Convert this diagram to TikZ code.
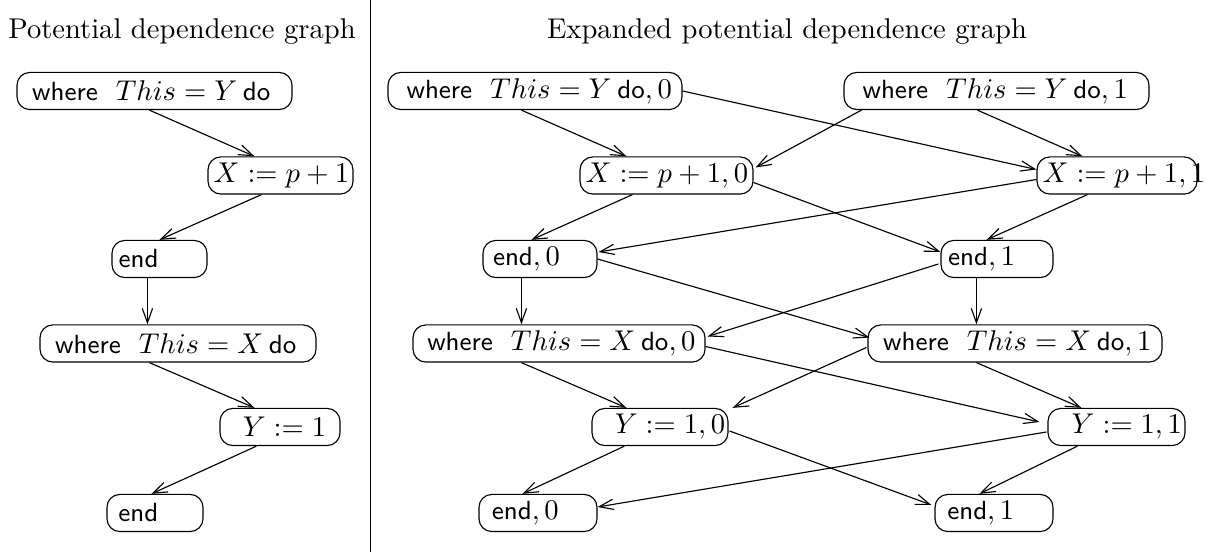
\documentclass[tikz,border=0pt]{standalone}
\usetikzlibrary{arrows.meta,calc}
\tikzset{
  stmt/.style={draw,rounded corners=4.5pt,minimum height=13pt,inner xsep=2pt,inner ysep=0pt,
    font=\sffamily,
    /utils/exec={\pgfmathsetlengthmacro\stmtwd{#1*0.35pt-4pt}},
    execute at begin node={\hbox to \stmtwd\bgroup},
    execute at end node={\hss\egroup}},
  dep/.style={line width=0.4pt,-{Straight Barb[length=5pt,width=3.6pt,line width=0.4pt]}},
}
\newcommand{\kw}[1]{{\fontsize{9.2}{11}\selectfont #1}}
\newcommand{\wh}[2]{\hspace*{#1}\kw{where}\hspace{6.3pt}$This=#2$\hspace{2pt}\kw{do}}
\begin{document}
\begin{tikzpicture}[x=0.35pt,y=0.35pt,line width=0.4pt]
\useasboundingbox (0,0) rectangle (1205,552);
\node (ltitle) at (182,520) {Potential dependence graph};
\node (rtitle) at (787,520) {Expanded potential dependence graph};
\coordinate (divtop) at (370,552);
\coordinate (divbot) at (370,0);
\draw[line width=0.35pt] (divtop) -- (divbot);
% left graph
\node[stmt=275] (L1) at (154.5,461) {\wh{3.3pt}{Y}};
\node[stmt=145] (L2) at (280.5,376.5) {$X := p+1$};
\node[stmt=95]  (L3) at (159.5,293) {\hspace*{0.3pt}\kw{end}};
\node[stmt=276] (L4) at (178,208.5) {\wh{3.3pt}{X}};
\node[stmt=120] (L5) at (280,125) {\hspace*{6pt}$Y := 1$};
\node[stmt=96]  (L6) at (155,39) {\hspace*{2pt}\kw{end}};
\draw[dep] ($(L1.south west)+(133,0)$) -- ($(L2.north west)+(47,0)$);
\draw[dep] ($(L2.south west)+(54,0)$) -- ($(L3.north west)+(48,0)$);
\draw[dep] ($(L3.south west)+(36,0)$) -- ($(L4.north west)+(108,0)$);
\draw[dep] ($(L4.south west)+(110,0)$) -- ($(L5.north west)+(35,0)$);
\draw[dep] ($(L5.south west)+(37,0)$) -- ($(L6.north west)+(45,0)$);
% expanded graph
\node[stmt=294] (R1a) at (535,461) {\wh{4.5pt}{Y}$,0$};
\node[stmt=305] (R1b) at (996.5,461) {\wh{4.5pt}{Y}$,1$};
\node[stmt=173] (R2a) at (666.5,376.5) {$X := p+1,0$};
\node[stmt=160] (R2b) at (1117,376.5) {$X := p+1,1$};
\node[stmt=114] (R3a) at (540,293) {\hspace*{1.5pt}\kw{end}$,0$};
\node[stmt=112] (R3b) at (997,293) {\hspace*{0.5pt}\kw{end}$,1$};
\node[stmt=292] (R4a) at (559,208.5) {\wh{3pt}{X}$,0$};
\node[stmt=294] (R4b) at (1015,208.5) {\wh{3.3pt}{X}$,1$};
\node[stmt=136] (R5a) at (660,125) {\hspace*{6pt}$Y := 1,0$};
\node[stmt=137] (R5b) at (1116.5,125) {\hspace*{6.3pt}$Y := 1,1$};
\node[stmt=118] (R6a) at (538,39) {\hspace*{2.5pt}\kw{end}$,0$};
\node[stmt=118] (R6b) at (994,39) {\hspace*{2.3pt}\kw{end}$,1$};
\draw[dep] ($(R1a.south west)+(134,0)$) -- ($(R2a.north west)+(47,0)$);
\draw[dep] (R1a.east) -- ($(R2b.west)+(0,6)$);
\draw[dep] ($(R1b.south west)+(18,0)$) -- ($(R2a.east)+(2,8)$);
\draw[dep] ($(R1b.south west)+(134,0)$) -- ($(R2b.north west)+(46,0)$);
\draw[dep] ($(R2a.south west)+(53,0)$) -- ($(R3a.north west)+(49,0)$);
\draw[dep] ($(R2a.east)+(0,-7)$) -- ($(R3b.west)+(0,7)$);
\draw[dep] ($(R2b.west)+(0,-4)$) -- ($(R3a.east)+(1,7)$);
\draw[dep] ($(R2b.south west)+(51,0)$) -- ($(R3b.north west)+(46,0)$);
\draw[dep] ($(R3a.south west)+(39,0)$) -- ($(R4a.north west)+(109,0)$);
\draw[dep] (R3a.east) -- ($(R4b.west)+(2,6)$);
\draw[dep] ($(R3b.west)+(-2,-5)$) -- ($(R4a.east)+(2,7)$);
\draw[dep] ($(R3b.south west)+(36,0)$) -- ($(R4b.north west)+(109,0)$);
\draw[dep] ($(R4a.south west)+(109,0)$) -- ($(R5a.north west)+(35,0)$);
\draw[dep] ($(R4a.east)+(0,-3)$) -- ($(R5b.west)+(-8,5)$);
\draw[dep] ($(R4b.west)+(-1,-4)$) -- ($(R5a.north east)+(4,0)$);
\draw[dep] ($(R4b.south west)+(109,0)$) -- ($(R5b.north west)+(34,0)$);
\draw[dep] ($(R5a.south west)+(33,0)$) -- ($(R6a.north west)+(44,0)$);
\draw[dep] ($(R5a.east)+(1,-4)$) -- ($(R6b.west)+(-3,8)$);
\draw[dep] ($(R5b.west)+(-1,-5)$) -- ($(R6a.east)+(0,6)$);
\draw[dep] ($(R5b.south west)+(30,0)$) -- ($(R6b.north west)+(45,0)$);
\end{tikzpicture}
\end{document}
